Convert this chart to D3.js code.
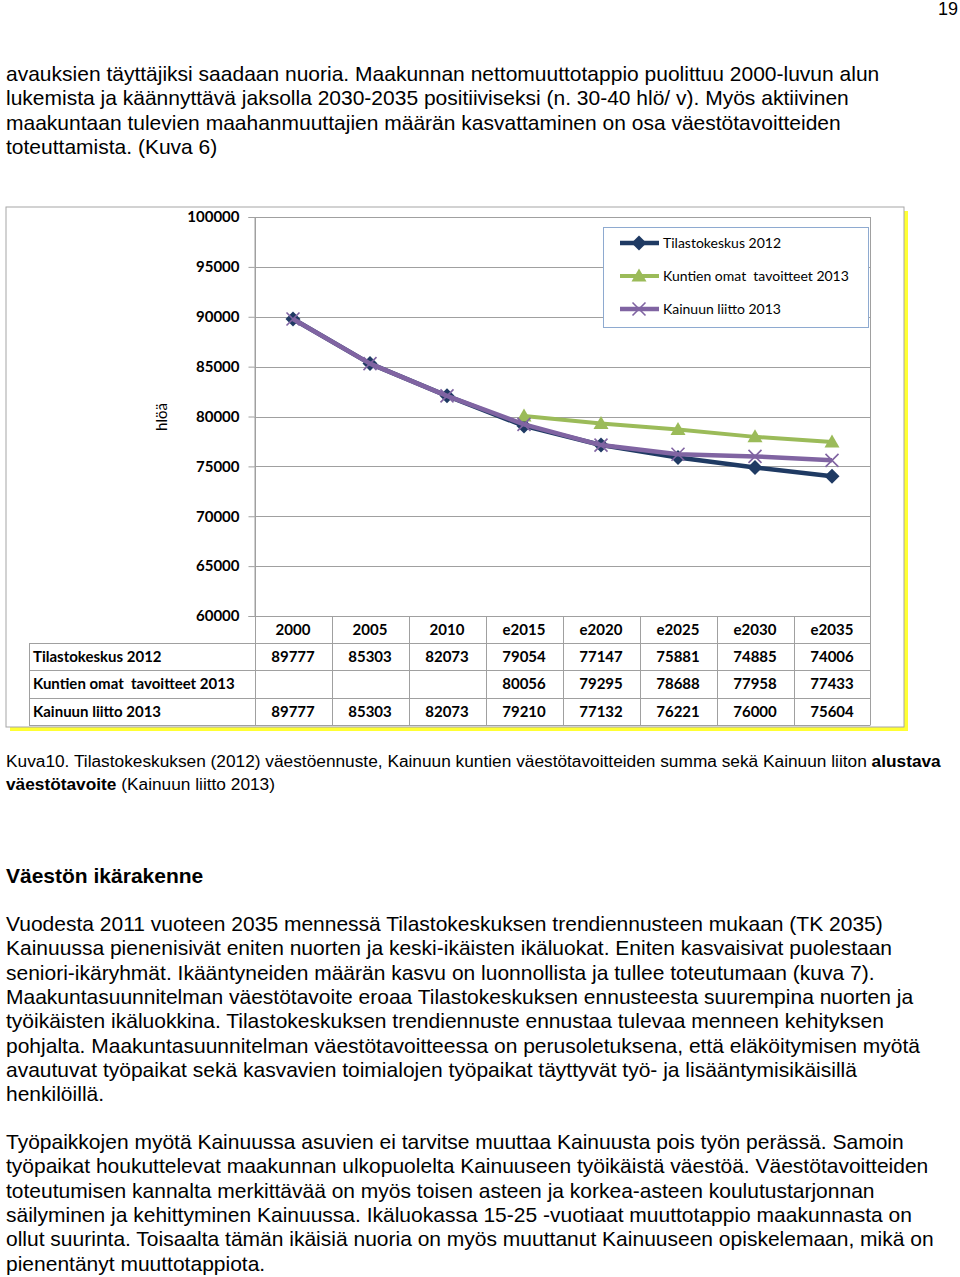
<!DOCTYPE html>
<html>
<head>
<meta charset="utf-8">
<script src="https://cdn.jsdelivr.net/npm/d3@7"></script>
<style>
  html, body { margin: 0; padding: 0; background: #fff; }
  svg { display: block; }
  text { white-space: pre; }
</style>
</head>
<body>
<svg id="page" width="960" height="1277"></svg>
<script>
// ---------------- DATA ----------------
const categories = ["2000", "2005", "2010", "e2015", "e2020", "e2025", "e2030", "e2035"];
const tilastokeskus = [89777, 85303, 82073, 79054, 77147, 75881, 74885, 74006];
const kuntien = [null, null, null, 80056, 79295, 78688, 77958, 77433];
const kainuun = [89777, 85303, 82073, 79210, 77132, 76221, 76000, 75604];
const seriesNames = ["Tilastokeskus 2012", "Kuntien omat  tavoitteet 2013", "Kainuun liitto 2013"];
const yTicks = [60000, 65000, 70000, 75000, 80000, 85000, 90000, 95000, 100000];
const yLabel = "hlöä";

const topLines = [
  "avauksien täyttäjiksi saadaan nuoria. Maakunnan nettomuuttotappio puolittuu 2000-luvun alun",
  "lukemista ja käännyttävä jaksolla 2030-2035 positiiviseksi (n. 30-40 hlö/ v). Myös aktiivinen",
  "maakuntaan tulevien maahanmuuttajien määrän kasvattaminen on osa väestötavoitteiden",
  "toteuttamista. (Kuva 6)"
];
const heading = "Väestön ikärakenne";
const para1 = [
  "Vuodesta 2011 vuoteen 2035 mennessä Tilastokeskuksen trendiennusteen mukaan (TK 2035)",
  "Kainuussa pienenisivät eniten nuorten ja keski-ikäisten ikäluokat. Eniten kasvaisivat puolestaan",
  "seniori-ikäryhmät. Ikääntyneiden määrän kasvu on luonnollista ja tullee toteutumaan (kuva 7).",
  "Maakuntasuunnitelman väestötavoite eroaa Tilastokeskuksen ennusteesta suurempina nuorten ja",
  "työikäisten ikäluokkina. Tilastokeskuksen trendiennuste ennustaa tulevaa menneen kehityksen",
  "pohjalta. Maakuntasuunnitelman väestötavoitteessa on perusoletuksena, että eläköitymisen myötä",
  "avautuvat työpaikat sekä kasvavien toimialojen työpaikat täyttyvät työ- ja lisääntymisikäisillä",
  "henkilöillä."
];
const para2 = [
  "Työpaikkojen myötä Kainuussa asuvien ei tarvitse muuttaa Kainuusta pois työn perässä. Samoin",
  "työpaikat houkuttelevat maakunnan ulkopuolelta Kainuuseen työikäistä väestöä. Väestötavoitteiden",
  "toteutumisen kannalta merkittävää on myös toisen asteen ja korkea-asteen koulutustarjonnan",
  "säilyminen ja kehittyminen Kainuussa. Ikäluokassa 15-25 -vuotiaat muuttotappio maakunnasta on",
  "ollut suurinta. Toisaalta tämän ikäisiä nuoria on myös muuttanut Kainuuseen opiskelemaan, mikä on",
  "pienentänyt muuttotappiota."
];
const captionLine1 = [["Kuva10. Tilastokeskuksen (2012) väestöennuste, Kainuun kuntien väestötavoitteiden summa sekä Kainuun liiton ", false], ["alustava", true]];
const captionLine2 = [["väestötavoite", true], [" (Kainuun liitto 2013)", false]];
const pageNumber = "19";

// ---------------- DRAW ----------------
const svg = d3.select("#page");
const bodyFont = "'Liberation Sans', Arial, sans-serif";
const chartFont = "Lato, 'Open Sans', sans-serif";
const bodySize = 21;

svg.append("rect").attr("width", 960).attr("height", 1277).attr("fill", "#fff");

// page number
svg.append("text").attr("x", 958).attr("y", 15).attr("text-anchor", "end")
  .attr("font-family", bodyFont).attr("font-size", 18).attr("fill", "#000").text(pageNumber);

function textBlock(lines, x, y0, lh, size) {
  svg.append("g").selectAll("text").data(lines).join("text")
    .attr("x", x).attr("y", (d, i) => y0 + i * lh)
    .attr("font-family", bodyFont).attr("font-size", size).attr("fill", "#000")
    .text(d => d);
}
textBlock(topLines, 6, 81, 24.4, bodySize);

// chart frame with yellow shadow
const frame = { x: 6, y: 207, w: 898, h: 520 };
svg.append("rect").attr("x", frame.x + 4).attr("y", frame.y + 4).attr("width", frame.w).attr("height", frame.h)
  .attr("fill", "#ffff33");
svg.append("rect").attr("x", frame.x).attr("y", frame.y).attr("width", frame.w).attr("height", frame.h)
  .attr("fill", "#fff").attr("stroke", "#a6a6a6").attr("stroke-width", 1);

const plot = { left: 254.5, right: 870.5, top: 217, bottom: 616 };
const x = d3.scaleBand().domain(categories).range([plot.left, plot.right]);
const y = d3.scaleLinear().domain([60000, 100000]).range([plot.bottom, plot.top]);
const gridColor = "#a0a0a0";

// gridlines
svg.append("g").selectAll("line").data(yTicks.filter(t => t > 60000)).join("line")
  .attr("x1", plot.left).attr("x2", plot.right)
  .attr("y1", d => Math.round(y(d)) + 0.5).attr("y2", d => Math.round(y(d)) + 0.5)
  .attr("stroke", gridColor).attr("stroke-width", 1);

// y axis
const yAxis = d3.axisLeft(y).tickValues(yTicks).tickSize(6).tickPadding(9).tickFormat(d3.format("d"));
const ya = svg.append("g").attr("transform", `translate(${plot.left},0)`).call(yAxis);
ya.select(".domain").attr("stroke", gridColor);
ya.selectAll(".tick line").attr("stroke", gridColor);
ya.selectAll(".tick text").attr("font-family", chartFont).attr("font-weight", "bold")
  .attr("font-size", 15).attr("fill", "#000");

svg.append("text").attr("transform", `translate(167,417) rotate(-90)`).attr("text-anchor", "middle")
  .attr("font-family", chartFont).attr("font-size", 15).attr("fill", "#000").text(yLabel);

// series
const colors = ["#1f3a63", "#9bbb59", "#8064a2"];
const seriesData = [tilastokeskus, kuntien, kainuun];
const widths = [4.5, 4, 4.5];
const line = d3.line().defined(d => d.v != null).x(d => x(d.c) + x.bandwidth() / 2).y(d => y(d.v));

function drawMarker(g, type, cx, cy, color) {
  if (type === 0) {
    g.append("path").attr("d", `M${cx},${cy - 7.5}L${cx + 7.5},${cy}L${cx},${cy + 7.5}L${cx - 7.5},${cy}Z`).attr("fill", color);
  } else if (type === 1) {
    g.append("path").attr("d", `M${cx},${cy - 7.5}L${cx + 7.5},${cy + 5.5}L${cx - 7.5},${cy + 5.5}Z`).attr("fill", color);
  } else {
    g.append("path").attr("d", `M${cx - 6.5},${cy - 6.5}L${cx + 6.5},${cy + 6.5}M${cx - 6.5},${cy + 6.5}L${cx + 6.5},${cy - 6.5}`)
      .attr("stroke", color).attr("stroke-width", 1.6).attr("fill", "none");
  }
}

seriesData.forEach((vals, si) => {
  const pts = categories.map((c, i) => ({ c, v: vals[i] }));
  const g = svg.append("g");
  g.append("path").datum(pts).attr("d", line).attr("fill", "none")
    .attr("stroke", colors[si]).attr("stroke-width", widths[si]).attr("stroke-linejoin", "round");
  pts.filter(p => p.v != null).forEach(p => drawMarker(g, si, x(p.c) + x.bandwidth() / 2, y(p.v), colors[si]));
});

// legend
const lg = svg.append("g");
lg.append("rect").attr("x", 603.5).attr("y", 227.5).attr("width", 265).attr("height", 100)
  .attr("fill", "#fff").attr("stroke", "#8eaad0").attr("stroke-width", 1);
seriesNames.forEach((name, i) => {
  const ly = 243 + i * 33;
  lg.append("line").attr("x1", 620).attr("x2", 659).attr("y1", ly).attr("y2", ly)
    .attr("stroke", colors[i]).attr("stroke-width", widths[i]);
  drawMarker(lg, i, 639, ly, colors[i]);
  lg.append("text").attr("x", 663).attr("y", ly + 5).attr("font-family", chartFont)
    .attr("font-size", 14).attr("fill", "#000").text(name);
});

// data table
const rowY = [616, 643, 670, 698, 725];
const tableLeft = 29;
const tg = svg.append("g");
tg.append("line").attr("x1", plot.left).attr("x2", plot.right).attr("y1", rowY[0] + 0.5).attr("y2", rowY[0] + 0.5).attr("stroke", gridColor);
rowY.slice(1).forEach(ry => tg.append("line").attr("x1", tableLeft).attr("x2", plot.right).attr("y1", ry + 0.5).attr("y2", ry + 0.5).attr("stroke", gridColor));
tg.append("line").attr("x1", tableLeft + 0.5).attr("x2", tableLeft + 0.5).attr("y1", rowY[1]).attr("y2", rowY[4]).attr("stroke", gridColor);
categories.forEach((c, i) => {
  const xx = Math.round(x(c)) + 0.5;
  tg.append("line").attr("x1", xx).attr("x2", xx).attr("y1", i === 0 ? plot.top : rowY[0]).attr("y2", rowY[4]).attr("stroke", gridColor);
});
tg.append("line").attr("x1", plot.right).attr("x2", plot.right).attr("y1", plot.top).attr("y2", rowY[4]).attr("stroke", gridColor);
tg.selectAll(".hdr").data(categories).join("text").attr("class", "hdr")
  .attr("x", d => x(d) + x.bandwidth() / 2).attr("y", rowY[0] + 19).attr("text-anchor", "middle")
  .attr("font-family", chartFont).attr("font-weight", "bold").attr("font-size", 15).attr("fill", "#000").text(d => d);
seriesData.forEach((vals, si) => {
  const cy = rowY[si + 1] + 19;
  tg.append("text").attr("x", 33).attr("y", cy).attr("font-family", chartFont).attr("font-weight", "bold")
    .attr("font-size", 15).attr("fill", "#000").text(seriesNames[si]);
  categories.forEach((c, i) => {
    if (vals[i] == null) return;
    tg.append("text").attr("x", x(c) + x.bandwidth() / 2).attr("y", cy).attr("text-anchor", "middle")
      .attr("font-family", chartFont).attr("font-weight", "bold").attr("font-size", 15).attr("fill", "#000").text(vals[i]);
  });
});

// caption
function richLine(parts, xx, yy) {
  const t = svg.append("text").attr("x", xx).attr("y", yy).attr("font-family", bodyFont).attr("font-size", 17.3).attr("fill", "#000");
  parts.forEach(([s, b]) => t.append("tspan").attr("font-weight", b ? "bold" : "normal").text(s));
}
richLine(captionLine1, 6, 767);
richLine(captionLine2, 6, 790);

svg.append("text").attr("x", 6).attr("y", 883).attr("font-family", bodyFont).attr("font-weight", "bold")
  .attr("font-size", 21).attr("fill", "#000").text(heading);

textBlock(para1, 6, 931, 24.3, bodySize);
textBlock(para2, 6, 1149, 24.3, bodySize);
</script>
</body>
</html>
